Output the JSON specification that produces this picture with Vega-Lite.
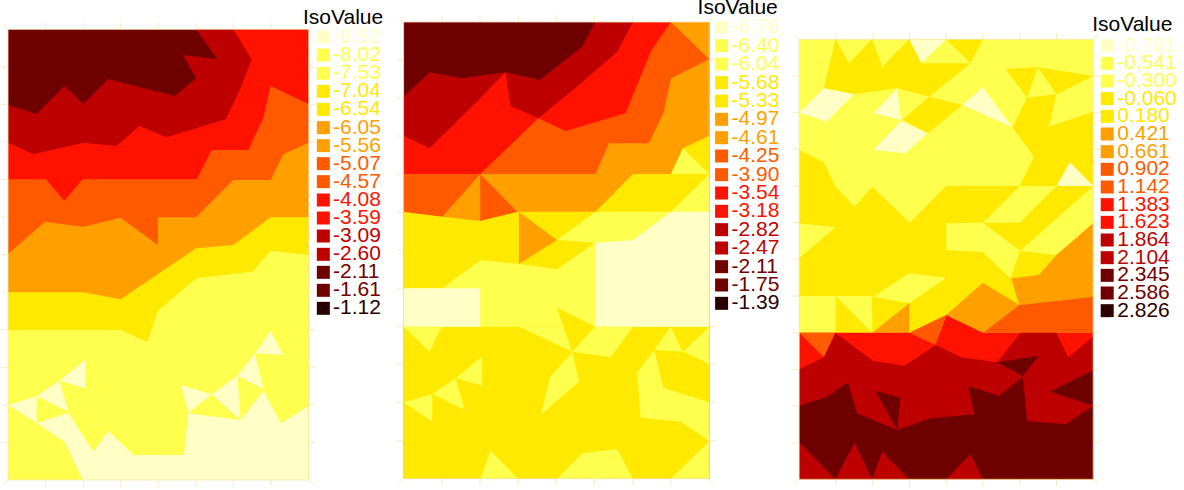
{"$schema":"https://vega.github.io/schema/vega-lite/v6.json","background":"white","padding":{"left":0,"top":-4,"right":0,"bottom":0},"spacing":90.6,"bounds":"flush","config":{"view":{"stroke":null}},"resolve":{"scale":{"color":"independent"}},"hconcat":[
{"width":305,"height":458,"layer":[
{"data":{"values":[
{"id":1,"l":"-2.11","x":[0,902,902,0],"y":[0,0,1352,1352]},
{"id":2,"l":"-3.09","x":[0,86,169,226,301,501,564,526,629,564,902,902,0],"y":[1125,1098,1182,1128,1202,1152,1205,1275,1262,1352,1352,0,0]},
{"id":3,"l":"-4.08","x":[0,76,226,326,394,476,654,698,731,676,902,902,0],"y":[1012,977,1012,1002,1062,1028,1083,1175,1262,1352,1352,0,0]},
{"id":4,"l":"-5.07","x":[0,114,169,224,566,611,721,766,788,902,902,0],"y":[902,902,838,902,902,990,990,1085,1182,1127,0,0]},
{"id":5,"l":"-6.05","x":[0,111,226,338,450,450,564,676,788,826,902,902,0],"y":[678,775,760,787,705,788,788,900,900,977,1012,0,0]},
{"id":6,"l":"-7.04","x":[0,226,338,564,676,788,902,902,0],"y":[563,563,542,695,705,788,788,0,0]},
{"id":7,"l":"-8.02","x":[0,338,418,450,564,733,788,902,902,0],"y":[450,450,414,508,605,625,688,675,0,0]},
{"id":8,"l":"-8.52","x":[224,171,86,181,256,301,376,528,541,698,766,819,902,902],"y":[0,113,171,202,85,147,75,75,200,180,268,170,223,0]},
{"id":9,"l":"-8.52","x":[0,86,86],"y":[225,252,171]},
{"id":10,"l":"-8.52","x":[86,154,181],"y":[252,298,205]},
{"id":11,"l":"-8.52","x":[154,231,231],"y":[298,360,275]},
{"id":12,"l":"-8.52","x":[519,611,541],"y":[285,257,200]},
{"id":13,"l":"-8.52","x":[611,688,698],"y":[257,313,180]},
{"id":14,"l":"-8.52","x":[688,741,766],"y":[313,380,273]},
{"id":15,"l":"-8.52","x":[741,788,826],"y":[380,448,375]}
]},"transform":[{"flatten":["x","y"]}],"mark":{"type":"line","filled":true,"clip":false},"encoding":{"x":{"field":"x","type":"quantitative","axis":null,"scale":{"domain":[0,915],"nice":false,"zero":false}},"y":{"field":"y","type":"quantitative","axis":null,"scale":{"domain":[0,1374],"nice":false,"zero":false}},"detail":{"field":"id"},"order":{"value":null},"color":{"field":"l","type":"nominal","legend":null,"scale":{"domain":["-8.52","-8.02","-7.53","-7.04","-6.54","-6.05","-5.56","-5.07","-4.57","-4.08","-3.59","-3.09","-2.60","-2.11","-1.61","-1.12"],"range":["#ffffc6","#ffff4d","#ffff4d","#ffe900","#ffe900","#ff9f00","#ff9f00","#ff5a00","#ff5a00","#ff1200","#ff1200","#bd0000","#bd0000","#6f0000","#6f0000","#2a0000"]}}}},
{"data":{"values":[
{"x":0,"x2":902,"y":0,"y2":0},{"x":0,"x2":902,"y":1352,"y2":1352},{"x":0,"x2":0,"y":0,"y2":1352},{"x":902,"x2":902,"y":0,"y2":1352},
{"x":0,"x2":-15,"y":0,"y2":-15},{"x":902,"x2":917,"y":0,"y2":-15},{"x":0,"x2":-15,"y":1352,"y2":1367},{"x":902,"x2":917,"y":1352,"y2":1367},
{"x":113,"x2":113,"y":0,"y2":-20},{"x":226,"x2":226,"y":0,"y2":-20},{"x":338,"x2":338,"y":0,"y2":-20},{"x":451,"x2":451,"y":0,"y2":-20},{"x":564,"x2":564,"y":0,"y2":-20},{"x":676,"x2":676,"y":0,"y2":-20},{"x":789,"x2":789,"y":0,"y2":-20},
{"x":113,"x2":113,"y":1352,"y2":1372},{"x":226,"x2":226,"y":1352,"y2":1372},{"x":338,"x2":338,"y":1352,"y2":1372},{"x":451,"x2":451,"y":1352,"y2":1372},{"x":564,"x2":564,"y":1352,"y2":1372},{"x":676,"x2":676,"y":1352,"y2":1372},{"x":789,"x2":789,"y":1352,"y2":1372},
{"x":0,"x2":-20,"y":113,"y2":113},{"x":0,"x2":-20,"y":225,"y2":225},{"x":0,"x2":-20,"y":338,"y2":338},{"x":0,"x2":-20,"y":451,"y2":451},{"x":0,"x2":-20,"y":563,"y2":563},{"x":0,"x2":-20,"y":676,"y2":676},{"x":0,"x2":-20,"y":789,"y2":789},{"x":0,"x2":-20,"y":901,"y2":901},{"x":0,"x2":-20,"y":1014,"y2":1014},{"x":0,"x2":-20,"y":1127,"y2":1127},{"x":0,"x2":-20,"y":1239,"y2":1239},
{"x":902,"x2":922,"y":113,"y2":113},{"x":902,"x2":922,"y":225,"y2":225},{"x":902,"x2":922,"y":338,"y2":338},{"x":902,"x2":922,"y":451,"y2":451},{"x":902,"x2":922,"y":563,"y2":563},{"x":902,"x2":922,"y":676,"y2":676},{"x":902,"x2":922,"y":789,"y2":789},{"x":902,"x2":922,"y":901,"y2":901},{"x":902,"x2":922,"y":1014,"y2":1014},{"x":902,"x2":922,"y":1127,"y2":1127},{"x":902,"x2":922,"y":1239,"y2":1239}
]},"mark":{"type":"rule","color":"#f8e6a8","strokeWidth":0.8},"encoding":{"x":{"field":"x","type":"quantitative","axis":null},"x2":{"field":"x2"},"y":{"field":"y","type":"quantitative","axis":null},"y2":{"field":"y2"}}},
{"data":{"values":[{"l":"-8.52","x":946,"tx":975,"y":1329},{"l":"-8.02","x":946,"tx":975,"y":1275},{"l":"-7.53","x":946,"tx":975,"y":1220},{"l":"-7.04","x":946,"tx":975,"y":1166},{"l":"-6.54","x":946,"tx":975,"y":1112},{"l":"-6.05","x":946,"tx":975,"y":1057},{"l":"-5.56","x":946,"tx":975,"y":1003},{"l":"-5.07","x":946,"tx":975,"y":949},{"l":"-4.57","x":946,"tx":975,"y":895},{"l":"-4.08","x":946,"tx":975,"y":840},{"l":"-3.59","x":946,"tx":975,"y":786},{"l":"-3.09","x":946,"tx":975,"y":732},{"l":"-2.60","x":946,"tx":975,"y":677},{"l":"-2.11","x":946,"tx":975,"y":623},{"l":"-1.61","x":946,"tx":975,"y":569},{"l":"-1.12","x":946,"tx":975,"y":515}]},"layer":[
{"mark":{"type":"square","size":169,"opacity":1,"stroke":null},"encoding":{"x":{"field":"x","type":"quantitative","axis":null},"y":{"field":"y","type":"quantitative","axis":null},"color":{"field":"l","type":"nominal","legend":null}}},
{"mark":{"type":"text","align":"left","baseline":"middle","font":"Liberation Sans","fontSize":21},"encoding":{"x":{"field":"tx","type":"quantitative","axis":null},"y":{"field":"y","type":"quantitative","axis":null},"text":{"field":"l"},"color":{"field":"l","type":"nominal","legend":null}}}
]},
{"data":{"values":[{"t":"IsoValue","x":885,"y":1387}]},"mark":{"type":"text","align":"left","baseline":"middle","font":"Liberation Sans","fontSize":21,"color":"black"},"encoding":{"x":{"field":"x","type":"quantitative","axis":null},"y":{"field":"y","type":"quantitative","axis":null},"text":{"field":"t"}}}
]},
{"width":305,"height":458,"layer":[
{"data":{"values":[
{"id":1,"l":"-2.11","x":[0,917,917,0],"y":[4,4,1374,1374]},
{"id":2,"l":"-2.82","x":[0,78,174,306,408,536,574,917,917,0],"y":[1150,1223,1205,1223,1200,1300,1374,1374,4,4]},
{"id":3,"l":"-3.54","x":[0,78,230,306,321,404,511,641,688,917,917,0],"y":[1032,995,1145,1223,1122,1085,1172,1285,1374,1374,4,4]},
{"id":4,"l":"-4.25","x":[0,230,404,486,666,744,802,917,917,0],"y":[918,918,1085,1047,1100,1290,1374,1374,4,4]},
{"id":5,"l":"-4.97","x":[802,917,917],"y":[1374,1262,1374]},
{"id":6,"l":"-4.97","x":[0,116,230,576,616,736,781,802,917,917,0],"y":[804,790,918,918,1010,1010,1105,1205,1262,4,4]},
{"id":7,"l":"-4.25","x":[230,341,230],"y":[918,805,777]},
{"id":8,"l":"-5.68","x":[0,116,230,346,576,688,802,838,917,917,0],"y":[804,790,777,805,805,918,918,995,1033,4,4]},
{"id":9,"l":"-6.40","x":[838,802,917],"y":[995,918,918]},
{"id":10,"l":"-4.97","x":[346,460,346],"y":[805,720,648]},
{"id":11,"l":"-6.40","x":[460,576,802,917,917,0,0,116,230,346,460,574],"y":[720,805,805,918,460,460,575,575,660,648,632,712]},
{"id":12,"l":"-6.76","x":[688,802,917,917,574,574],"y":[720,805,805,460,460,712]},
{"id":13,"l":"-6.76","x":[0,230,230,0],"y":[575,575,460,460]},
{"id":14,"l":"-6.40","x":[346,506,574],"y":[460,385,460]},
{"id":15,"l":"-5.68","x":[460,574,506],"y":[517,460,385]},
{"id":16,"l":"-6.40","x":[0,114,78],"y":[460,460,385]},
{"id":17,"l":"-6.40","x":[574,688,621,506],"y":[460,460,368,385]},
{"id":18,"l":"-6.40","x":[801,838,752],"y":[460,385,390]},
{"id":19,"l":"-6.40","x":[838,917,917],"y":[385,460,348]},
{"id":20,"l":"-6.40","x":[752,701,711,831,917,917,779],"y":[390,323,187,175,117,233,277]},
{"id":21,"l":"-6.40","x":[156,234,236],"y":[305,370,283]},
{"id":22,"l":"-6.40","x":[86,156,184],"y":[258,305,210]},
{"id":23,"l":"-6.40","x":[0,86,86],"y":[233,258,175]},
{"id":24,"l":"-6.40","x":[506,526,411,440],"y":[385,295,195,310]},
{"id":25,"l":"-6.40","x":[230,261,344],"y":[4,88,4]},
{"id":26,"l":"-6.40","x":[460,536,641,688],"y":[4,80,93,4]},
{"id":27,"l":"-6.40","x":[802,917,917],"y":[4,117,4]}
]},"transform":[{"flatten":["x","y"]}],"mark":{"type":"line","filled":true,"clip":false},"encoding":{"x":{"field":"x","type":"quantitative","axis":null,"scale":{"domain":[0,915],"nice":false,"zero":false}},"y":{"field":"y","type":"quantitative","axis":null,"scale":{"domain":[0,1374],"nice":false,"zero":false}},"detail":{"field":"id"},"order":{"value":null},"color":{"field":"l","type":"nominal","legend":null,"scale":{"domain":["-6.76","-6.40","-6.04","-5.68","-5.33","-4.97","-4.61","-4.25","-3.90","-3.54","-3.18","-2.82","-2.47","-2.11","-1.75","-1.39"],"range":["#ffffc6","#ffff4d","#ffff4d","#ffe900","#ffe900","#ff9f00","#ff9f00","#ff5a00","#ff5a00","#ff1200","#ff1200","#bd0000","#bd0000","#6f0000","#6f0000","#2a0000"]}}}},
{"data":{"values":[
{"x":0,"x2":917,"y":4,"y2":4},{"x":0,"x2":917,"y":1374,"y2":1374},{"x":0,"x2":0,"y":4,"y2":1374},{"x":917,"x2":917,"y":4,"y2":1374},
{"x":0,"x2":-15,"y":4,"y2":-11},{"x":917,"x2":932,"y":4,"y2":-11},{"x":0,"x2":-15,"y":1374,"y2":1389},{"x":917,"x2":932,"y":1374,"y2":1389},
{"x":115,"x2":115,"y":4,"y2":-16},{"x":229,"x2":229,"y":4,"y2":-16},{"x":344,"x2":344,"y":4,"y2":-16},{"x":458,"x2":458,"y":4,"y2":-16},{"x":573,"x2":573,"y":4,"y2":-16},{"x":688,"x2":688,"y":4,"y2":-16},{"x":802,"x2":802,"y":4,"y2":-16},
{"x":115,"x2":115,"y":1374,"y2":1394},{"x":229,"x2":229,"y":1374,"y2":1394},{"x":344,"x2":344,"y":1374,"y2":1394},{"x":458,"x2":458,"y":1374,"y2":1394},{"x":573,"x2":573,"y":1374,"y2":1394},{"x":688,"x2":688,"y":1374,"y2":1394},{"x":802,"x2":802,"y":1374,"y2":1394},
{"x":0,"x2":-20,"y":118,"y2":118},{"x":0,"x2":-20,"y":232,"y2":232},{"x":0,"x2":-20,"y":347,"y2":347},{"x":0,"x2":-20,"y":461,"y2":461},{"x":0,"x2":-20,"y":575,"y2":575},{"x":0,"x2":-20,"y":689,"y2":689},{"x":0,"x2":-20,"y":803,"y2":803},{"x":0,"x2":-20,"y":917,"y2":917},{"x":0,"x2":-20,"y":1032,"y2":1032},{"x":0,"x2":-20,"y":1146,"y2":1146},{"x":0,"x2":-20,"y":1260,"y2":1260},
{"x":917,"x2":937,"y":118,"y2":118},{"x":917,"x2":937,"y":232,"y2":232},{"x":917,"x2":937,"y":347,"y2":347},{"x":917,"x2":937,"y":461,"y2":461},{"x":917,"x2":937,"y":575,"y2":575},{"x":917,"x2":937,"y":689,"y2":689},{"x":917,"x2":937,"y":803,"y2":803},{"x":917,"x2":937,"y":917,"y2":917},{"x":917,"x2":937,"y":1032,"y2":1032},{"x":917,"x2":937,"y":1146,"y2":1146},{"x":917,"x2":937,"y":1260,"y2":1260}
]},"mark":{"type":"rule","color":"#f8e6a8","strokeWidth":0.8},"encoding":{"x":{"field":"x","type":"quantitative","axis":null},"x2":{"field":"x2"},"y":{"field":"y","type":"quantitative","axis":null},"y2":{"field":"y2"}}},
{"data":{"values":[{"l":"-6.76","x":954,"tx":984,"y":1358},{"l":"-6.40","x":954,"tx":984,"y":1303},{"l":"-6.04","x":954,"tx":984,"y":1248},{"l":"-5.68","x":954,"tx":984,"y":1192},{"l":"-5.33","x":954,"tx":984,"y":1137},{"l":"-4.97","x":954,"tx":984,"y":1082},{"l":"-4.61","x":954,"tx":984,"y":1027},{"l":"-4.25","x":954,"tx":984,"y":972},{"l":"-3.90","x":954,"tx":984,"y":916},{"l":"-3.54","x":954,"tx":984,"y":861},{"l":"-3.18","x":954,"tx":984,"y":806},{"l":"-2.82","x":954,"tx":984,"y":751},{"l":"-2.47","x":954,"tx":984,"y":696},{"l":"-2.11","x":954,"tx":984,"y":640},{"l":"-1.75","x":954,"tx":984,"y":585},{"l":"-1.39","x":954,"tx":984,"y":530}]},"layer":[
{"mark":{"type":"square","size":169,"opacity":1,"stroke":null},"encoding":{"x":{"field":"x","type":"quantitative","axis":null},"y":{"field":"y","type":"quantitative","axis":null},"color":{"field":"l","type":"nominal","legend":null}}},
{"mark":{"type":"text","align":"left","baseline":"middle","font":"Liberation Sans","fontSize":21},"encoding":{"x":{"field":"tx","type":"quantitative","axis":null},"y":{"field":"y","type":"quantitative","axis":null},"text":{"field":"l"},"color":{"field":"l","type":"nominal","legend":null}}}
]},
{"data":{"values":[{"t":"IsoValue","x":882,"y":1417}]},"mark":{"type":"text","align":"left","baseline":"middle","font":"Liberation Sans","fontSize":21,"color":"black"},"encoding":{"x":{"field":"x","type":"quantitative","axis":null},"y":{"field":"y","type":"quantitative","axis":null},"text":{"field":"t"}}}
]},
{"width":305,"height":458,"layer":[
{"data":{"values":[
{"id":1,"l":"-0.541","x":[0,882,882,0],"y":[2,2,1322,1322]},
{"id":2,"l":"-0.060","x":[0,74,109,166,219,332,441,662,704,640,684,772,749,882,882,0],"y":[990,953,880,820,880,772,882,882,970,1058,1147,1157,1060,1105,442,442]},
{"id":3,"l":"-0.060","x":[109,149,219,249,330,367,514,390,294,164,74],"y":[1322,1250,1322,1240,1322,1250,1250,1150,1175,1157,1175]},
{"id":4,"l":"-0.060","x":[441,551,514],"y":[1322,1322,1250]},
{"id":5,"l":"-0.781","x":[330,441,367],"y":[1322,1322,1250]},
{"id":6,"l":"-0.781","x":[0,74,164,82],"y":[1102,1175,1157,1075]},
{"id":7,"l":"-0.781","x":[222,294,306],"y":[1100,1175,1080]},
{"id":8,"l":"-0.781","x":[306,386,318,222],"y":[1078,1040,980,990]},
{"id":9,"l":"-0.060","x":[390,489,386,309],"y":[1150,1125,1040,1080]},
{"id":10,"l":"-0.781","x":[489,551,640],"y":[1125,1178,1058]},
{"id":11,"l":"-0.060","x":[619,716,684],"y":[1233,1238,1147]},
{"id":12,"l":"-0.060","x":[716,882,772],"y":[1238,1212,1157]},
{"id":13,"l":"-0.541","x":[551,662,772,662],"y":[772,882,882,772]},
{"id":14,"l":"-0.781","x":[772,812,882],"y":[882,953,882]},
{"id":15,"l":"-0.541","x":[0,109,0],"y":[770,758,665]},
{"id":16,"l":"-0.541","x":[441,551,662,634,551,441],"y":[770,772,688,605,683,690]},
{"id":17,"l":"-0.541","x":[662,882,882,772],"y":[687,882,770,675]},
{"id":18,"l":"0.421","x":[882,772,719,636,660,882],"y":[770,675,615,605,525,550]},
{"id":19,"l":"0.421","x":[441,551,660,551],"y":[495,592,525,442]},
{"id":20,"l":"0.902","x":[551,660,882,882],"y":[442,525,550,442]},
{"id":21,"l":"0.421","x":[219,330,330],"y":[442,530,442]},
{"id":22,"l":"-0.541","x":[222,330,441,330],"y":[550,620,607,530]},
{"id":23,"l":"-0.541","x":[0,109,109,0],"y":[552,552,442,442]},
{"id":24,"l":"-0.541","x":[109,219,219],"y":[552,552,442]},
{"id":25,"l":"1.383","x":[0,882,882,0],"y":[442,442,2,2]},
{"id":26,"l":"1.383","x":[441,551,409],"y":[495,442,405]},
{"id":27,"l":"0.902","x":[330,441,409],"y":[442,495,405]},
{"id":28,"l":"0.902","x":[0,109,74],"y":[442,442,368]},
{"id":29,"l":"1.864","x":[0,74,109,222,316,409,486,594,664,772,807,882,882,0],"y":[332,368,442,357,343,405,368,353,442,442,368,430,2,2]},
{"id":30,"l":"2.345","x":[0,84,146,174,294,394,526,507,599,671,684,799,882,882,0],"y":[222,250,293,200,150,185,197,282,253,308,177,167,223,2,2]},
{"id":31,"l":"2.345","x":[594,719,671],"y":[353,373,312]},
{"id":32,"l":"2.345","x":[229,304,294],"y":[268,247,150]},
{"id":33,"l":"2.345","x":[751,882,882],"y":[265,330,223]},
{"id":34,"l":"1.864","x":[0,109,0],"y":[113,2,2]},
{"id":35,"l":"1.864","x":[109,166,219],"y":[2,112,2]},
{"id":36,"l":"1.864","x":[219,249,330],"y":[2,85,2]},
{"id":37,"l":"1.864","x":[441,514,551],"y":[2,77,2]}
]},"transform":[{"flatten":["x","y"]}],"mark":{"type":"line","filled":true,"clip":false},"encoding":{"x":{"field":"x","type":"quantitative","axis":null,"scale":{"domain":[0,915],"nice":false,"zero":false}},"y":{"field":"y","type":"quantitative","axis":null,"scale":{"domain":[0,1374],"nice":false,"zero":false}},"detail":{"field":"id"},"order":{"value":null},"color":{"field":"l","type":"nominal","legend":null,"scale":{"domain":["-0.781","-0.541","-0.300","-0.060","0.180","0.421","0.661","0.902","1.142","1.383","1.623","1.864","2.104","2.345","2.586","2.826"],"range":["#ffffc6","#ffff4d","#ffff4d","#ffe900","#ffe900","#ff9f00","#ff9f00","#ff5a00","#ff5a00","#ff1200","#ff1200","#bd0000","#bd0000","#6f0000","#6f0000","#2a0000"]}}}},
{"data":{"values":[
{"x":0,"x2":882,"y":2,"y2":2},{"x":0,"x2":882,"y":1322,"y2":1322},{"x":0,"x2":0,"y":2,"y2":1322},{"x":882,"x2":882,"y":2,"y2":1322},
{"x":0,"x2":-15,"y":2,"y2":-13},{"x":882,"x2":897,"y":2,"y2":-13},{"x":0,"x2":-15,"y":1322,"y2":1337},{"x":882,"x2":897,"y":1322,"y2":1337},
{"x":110,"x2":110,"y":2,"y2":-18},{"x":221,"x2":221,"y":2,"y2":-18},{"x":331,"x2":331,"y":2,"y2":-18},{"x":441,"x2":441,"y":2,"y2":-18},{"x":551,"x2":551,"y":2,"y2":-18},{"x":662,"x2":662,"y":2,"y2":-18},{"x":772,"x2":772,"y":2,"y2":-18},
{"x":110,"x2":110,"y":1322,"y2":1342},{"x":221,"x2":221,"y":1322,"y2":1342},{"x":331,"x2":331,"y":1322,"y2":1342},{"x":441,"x2":441,"y":1322,"y2":1342},{"x":551,"x2":551,"y":1322,"y2":1342},{"x":662,"x2":662,"y":1322,"y2":1342},{"x":772,"x2":772,"y":1322,"y2":1342},
{"x":0,"x2":-20,"y":112,"y2":112},{"x":0,"x2":-20,"y":222,"y2":222},{"x":0,"x2":-20,"y":332,"y2":332},{"x":0,"x2":-20,"y":442,"y2":442},{"x":0,"x2":-20,"y":552,"y2":552},{"x":0,"x2":-20,"y":662,"y2":662},{"x":0,"x2":-20,"y":772,"y2":772},{"x":0,"x2":-20,"y":882,"y2":882},{"x":0,"x2":-20,"y":992,"y2":992},{"x":0,"x2":-20,"y":1102,"y2":1102},{"x":0,"x2":-20,"y":1212,"y2":1212},
{"x":882,"x2":902,"y":112,"y2":112},{"x":882,"x2":902,"y":222,"y2":222},{"x":882,"x2":902,"y":332,"y2":332},{"x":882,"x2":902,"y":442,"y2":442},{"x":882,"x2":902,"y":552,"y2":552},{"x":882,"x2":902,"y":662,"y2":662},{"x":882,"x2":902,"y":772,"y2":772},{"x":882,"x2":902,"y":882,"y2":882},{"x":882,"x2":902,"y":992,"y2":992},{"x":882,"x2":902,"y":1102,"y2":1102},{"x":882,"x2":902,"y":1212,"y2":1212}
]},"mark":{"type":"rule","color":"#f8e6a8","strokeWidth":0.8},"encoding":{"x":{"field":"x","type":"quantitative","axis":null},"x2":{"field":"x2"},"y":{"field":"y","type":"quantitative","axis":null},"y2":{"field":"y2"}}},
{"data":{"values":[{"l":"-0.781","x":924,"tx":954,"y":1303},{"l":"-0.541","x":924,"tx":954,"y":1250},{"l":"-0.300","x":924,"tx":954,"y":1197},{"l":"-0.060","x":924,"tx":954,"y":1144},{"l":"0.180","x":924,"tx":954,"y":1091},{"l":"0.421","x":924,"tx":954,"y":1038},{"l":"0.661","x":924,"tx":954,"y":985},{"l":"0.902","x":924,"tx":954,"y":932},{"l":"1.142","x":924,"tx":954,"y":879},{"l":"1.383","x":924,"tx":954,"y":826},{"l":"1.623","x":924,"tx":954,"y":773},{"l":"1.864","x":924,"tx":954,"y":720},{"l":"2.104","x":924,"tx":954,"y":667},{"l":"2.345","x":924,"tx":954,"y":614},{"l":"2.586","x":924,"tx":954,"y":561},{"l":"2.826","x":924,"tx":954,"y":508}]},"layer":[
{"mark":{"type":"square","size":169,"opacity":1,"stroke":null},"encoding":{"x":{"field":"x","type":"quantitative","axis":null},"y":{"field":"y","type":"quantitative","axis":null},"color":{"field":"l","type":"nominal","legend":null}}},
{"mark":{"type":"text","align":"left","baseline":"middle","font":"Liberation Sans","fontSize":21},"encoding":{"x":{"field":"tx","type":"quantitative","axis":null},"y":{"field":"y","type":"quantitative","axis":null},"text":{"field":"l"},"color":{"field":"l","type":"nominal","legend":null}}}
]},
{"data":{"values":[{"t":"IsoValue","x":879,"y":1364}]},"mark":{"type":"text","align":"left","baseline":"middle","font":"Liberation Sans","fontSize":21,"color":"black"},"encoding":{"x":{"field":"x","type":"quantitative","axis":null},"y":{"field":"y","type":"quantitative","axis":null},"text":{"field":"t"}}}
]}
]}
